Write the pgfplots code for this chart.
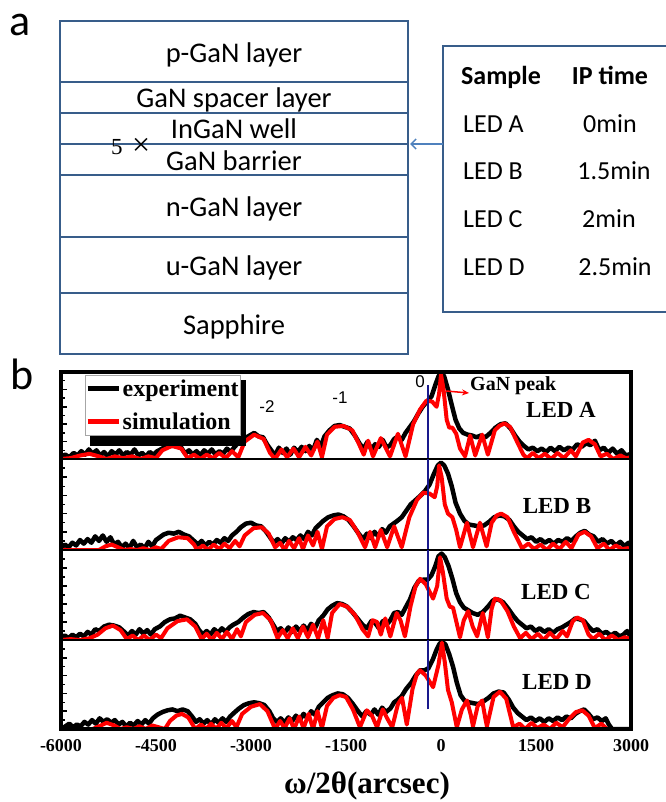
\documentclass[border=0pt]{standalone}
\usepackage{pgfplots}
\pgfplotsset{compat=1.18}
\usepackage{fontspec}
\setmainfont{Liberation Serif}
\newfontfamily\carl{Carlito}
\newfontfamily\arl{Liberation Sans}
\usetikzlibrary{arrows.meta}
\definecolor{boxc}{RGB}{56,93,138}
\definecolor{arrc}{RGB}{79,129,189}
\definecolor{navyl}{RGB}{25,25,140}
\pgfplotsset{
  xrd/.style={width=570pt, scale only axis, xmin=-6000, xmax=3000, ymin=0, ymax=1,
    axis line style={line width=2pt},
    ytick={0,0.2,0.4,0.6,0.8,1}, yticklabels={}, minor y tick num=1,
    ytick pos=left, tick align=inside, major tick length=6pt, minor tick length=3.5pt,
    every tick/.append style={black, line width=1.5pt},
    xtick=\empty},
  expt/.style={black, line width=4.5pt, line join=round},
  simu/.style={red, line width=4pt, line join=round},
  blu/.style={navyl, line width=2pt, forget plot},
}
\begin{document}
\begin{tikzpicture}[x=1pt,y=1pt, t/.style={inner sep=0pt}]
\useasboundingbox (0,0) rectangle (665,-802);
% ---------------- panel a ----------------
\draw[boxc, line width=1.5pt] (60,-21) rectangle (408,-354);
\foreach \yy in {82,113,144,175,237,293} \draw[boxc, line width=1.5pt] (60,-\yy) -- (408,-\yy);
\draw[boxc, line width=1.5pt] (443,-46) rectangle (668,-312);
\draw[arrc, line width=1.5pt, -{Straight Barb[length=5pt,width=10pt]}] (443,-144) -- (410,-144);
\node[t, anchor=base west, font=\carl\fontsize{44}{44}\selectfont] at (9,-36) {a};
\begin{scope}[every node/.style={t, anchor=base, font=\carl\fontsize{28.5}{30}\selectfont}]
\node at (234,-62.7) {p-GaN layer};
\node at (234,-108) {GaN spacer layer};
\node at (234,-139) {InGaN well};
\node at (234,-171) {GaN barrier};
\node at (234,-217) {n-GaN layer};
\node at (234,-275) {u-GaN layer};
\node at (234,-334) {Sapphire};
\end{scope}
\node[t, anchor=base west, font=\fontsize{23}{24}\selectfont] at (111,-155) {5};
\node[t, anchor=base west, font=\fontsize{32}{32}\selectfont] at (132,-156) {×};
\begin{scope}[every node/.style={t, anchor=base, font=\carl\fontsize{26}{28}\selectfont}]
\node[font=\carl\bfseries\fontsize{26}{28}\selectfont] at (501,-85) {Sample};
\node[font=\carl\bfseries\fontsize{26}{28}\selectfont] at (610,-85) {IP time};
\node[anchor=base west] at (463,-133) {LED A};
\node[anchor=base west] at (463,-180) {LED B};
\node[anchor=base west] at (463,-228) {LED C};
\node[anchor=base west] at (463,-275) {LED D};
\node at (610,-133) {0min};
\node at (614,-180) {1.5min};
\node at (609,-228) {2min};
\node at (615,-275) {2.5min};
\end{scope}
% ---------------- panel b ----------------
\node[t, anchor=base west, font=\carl\fontsize{44}{44}\selectfont] at (10,-389) {b};
% LED A
\begin{axis}[xrd, height=87pt, at={(61pt,-459pt)}, anchor=south west,
  legend style={at={(0.042,0.966)}, anchor=north west, draw=gray!70, line width=0.6pt, fill=white,
    font=\bfseries\fontsize{24}{24}\selectfont, row sep=12pt, inner xsep=0pt, inner ysep=3pt,
    nodes={inner sep=1.5pt},
    cells={anchor=west}},
  legend image code/.code={\draw[#1, line width=5pt] (0pt,0pt) -- (31pt,0pt);}]
\addplot[expt] table {
x y
-6000 0.03
-5930 0.05
-5870 0.02
-5800 0.07
-5740 0.04
-5680 0.09
-5620 0.05
-5560 0.11
-5500 0.06
-5440 0.10
-5380 0.04
-5320 0.08
-5260 0.03
-5200 0.09
-5140 0.05
-5080 0.10
-5020 0.04
-4960 0.08
-4900 0.05
-4840 0.11
-4780 0.04
-4720 0.07
-4660 0.03
-4600 0.08
-4540 0.05
-4480 0.09
-4400 0.12
-4320 0.16
-4250 0.15
-4180 0.17
-4100 0.13
-4040 0.06
-3980 0.10
-3920 0.05
-3860 0.09
-3800 0.04
-3740 0.10
-3680 0.06
-3620 0.11
-3560 0.05
-3500 0.09
-3440 0.06
-3380 0.12
-3320 0.08
-3260 0.14
-3180 0.20
-3100 0.24
-3020 0.27
-2950 0.30
-2880 0.26
-2810 0.25
-2740 0.16
-2680 0.10
-2620 0.04
-2560 0.13
-2500 0.07
-2440 0.12
-2380 0.05
-2320 0.13
-2260 0.08
-2200 0.14
-2140 0.09
-2080 0.15
-2020 0.10
-1960 0.22
-1900 0.14
-1840 0.26
-1760 0.33
-1680 0.38
-1600 0.39
-1520 0.37
-1440 0.35
-1360 0.27
-1280 0.17
-1220 0.12
-1160 0.20
-1100 0.11
-1040 0.17
-980 0.14
-920 0.22
-860 0.13
-800 0.16
-740 0.23
-680 0.26
-620 0.22
-560 0.30
-500 0.36
-430 0.43
-360 0.52
-290 0.60
-220 0.66
-150 0.72
-90 0.85
-40 0.95
0 0.99
50 0.95
110 0.80
170 0.62
230 0.45
290 0.35
350 0.30
420 0.28
490 0.27
560 0.25
630 0.27
700 0.25
780 0.30
860 0.36
940 0.40
1020 0.41
1100 0.35
1170 0.27
1240 0.20
1310 0.15
1380 0.11
1450 0.13
1520 0.09
1590 0.12
1660 0.08
1730 0.13
1800 0.09
1870 0.14
1940 0.10
2010 0.13
2080 0.11
2150 0.17
2220 0.14
2290 0.18
2360 0.16
2430 0.21
2500 0.10
2570 0.13
2640 0.07
2710 0.12
2780 0.06
2850 0.10
2920 0.04
3000 0.06
};
\addlegendentry{experiment}
\addplot[simu] table {
x y
-6000 0.00
-5850 0.01
-5700 0.04
-5550 0.06
-5400 0.03
-5280 0.00
-5150 0.03
-5020 0.01
-4880 0.03
-4750 0.00
-4620 0.03
-4500 0.01
-4400 0.10
-4250 0.15
-4100 0.12
-4000 0.01
-3900 0.05
-3800 0.00
-3700 0.05
-3600 0.01
-3500 0.07
-3400 0.01
-3300 0.09
-3200 0.02
-3100 0.20
-2950 0.28
-2800 0.23
-2700 0.07
-2620 0.00
-2520 0.11
-2430 0.02
-2330 0.12
-2240 0.02
-2140 0.14
-2050 0.04
-1950 0.20
-1880 0.02
-1800 0.28
-1680 0.37
-1540 0.38
-1400 0.33
-1300 0.18
-1220 0.05
-1150 0.21
-1074 0.03
-950 0.24
-805 0.03
-680 0.29
-560 0.03
-440 0.40
-330 0.57
-230 0.67
-140 0.66
-70 0.60
-30 0.75
0 0.97
40 0.80
90 0.45
130 0.36
180 0.36
240 0.29
300 0.12
380 0.03
460 0.27
540 0.04
650 0.28
740 0.05
850 0.33
920 0.38
1000 0.41
1090 0.37
1200 0.20
1300 0.05
1360 0.01
1450 0.07
1540 0.01
1640 0.06
1740 0.00
1840 0.07
1940 0.01
2050 0.10
2130 0.03
2240 0.19
2330 0.22
2430 0.17
2520 0.03
2620 0.06
2720 0.00
2830 0.04
2920 0.01
3000 0.02
};
\addlegendentry{simulation}
\addplot[blu] coordinates {(-205,0) (-205,0.85)};
\fill[black] (rel axis cs:0.0509,0.908) rectangle (rel axis cs:0.3246,0.149);
\end{axis}
% LED B
\begin{axis}[xrd, height=91pt, at={(61pt,-550pt)}, anchor=south west]
\addplot[expt] table {
x y
-6000 0.02
-5940 0.06
-5880 0.03
-5820 0.08
-5760 0.05
-5700 0.11
-5640 0.07
-5580 0.12
-5520 0.08
-5460 0.15
-5400 0.10
-5340 0.16
-5280 0.09
-5220 0.14
-5160 0.06
-5100 0.09
-5040 0.03
-4980 0.07
-4920 0.02
-4860 0.10
-4800 0.03
-4740 0.06
-4680 0.02
-4620 0.09
-4560 0.04
-4500 0.11
-4440 0.14
-4380 0.17
-4300 0.19
-4220 0.18
-4140 0.20
-4060 0.17
-3980 0.15
-3900 0.10
-3840 0.06
-3780 0.10
-3720 0.05
-3660 0.09
-3600 0.06
-3540 0.11
-3480 0.08
-3420 0.13
-3360 0.10
-3300 0.16
-3230 0.20
-3160 0.25
-3080 0.29
-3000 0.30
-2920 0.27
-2840 0.26
-2760 0.20
-2700 0.14
-2640 0.08
-2580 0.12
-2520 0.07
-2460 0.13
-2400 0.09
-2340 0.14
-2280 0.11
-2220 0.16
-2160 0.12
-2100 0.20
-2040 0.16
-1980 0.24
-1920 0.28
-1860 0.32
-1780 0.36
-1700 0.38
-1620 0.39
-1540 0.37
-1460 0.33
-1380 0.26
-1300 0.18
-1230 0.12
-1170 0.18
-1110 0.13
-1050 0.20
-990 0.15
-930 0.23
-870 0.19
-810 0.26
-750 0.29
-690 0.32
-620 0.36
-550 0.43
-480 0.50
-400 0.55
-320 0.60
-250 0.65
-180 0.72
-110 0.84
-50 0.93
0 0.96
50 0.93
110 0.84
170 0.70
230 0.52
300 0.40
370 0.32
440 0.28
520 0.27
600 0.26
680 0.27
760 0.31
840 0.36
920 0.38
1000 0.37
1080 0.33
1150 0.26
1220 0.20
1290 0.16
1360 0.12
1430 0.14
1500 0.09
1570 0.12
1640 0.08
1710 0.11
1780 0.07
1850 0.11
1920 0.09
1990 0.13
2060 0.10
2130 0.15
2200 0.19
2270 0.21
2340 0.17
2410 0.15
2480 0.09
2550 0.12
2620 0.07
2690 0.10
2760 0.05
2830 0.09
2900 0.04
2960 0.08
3000 0.03
};
\addplot[simu] table {
x y
-6000 0.00
-5400 0.00
-5300 0.04
-5200 0.06
-5100 0.03
-5000 0.00
-4900 0.01
-4800 0.00
-4700 0.02
-4600 0.00
-4500 0.03
-4420 0.01
-4300 0.10
-4150 0.14
-4000 0.13
-3900 0.06
-3850 0.00
-3760 0.05
-3680 0.00
-3590 0.06
-3500 0.01
-3420 0.07
-3340 0.02
-3250 0.10
-3180 0.04
-3100 0.16
-2960 0.24
-2830 0.25
-2720 0.18
-2620 0.03
-2540 0.08
-2470 0.00
-2400 0.10
-2320 0.02
-2240 0.13
-2180 0.01
-2100 0.16
-2020 0.05
-1950 0.20
-1880 0.01
-1800 0.26
-1680 0.34
-1560 0.36
-1440 0.33
-1320 0.20
-1200 0.03
-1120 0.20
-1040 0.03
-950 0.22
-850 0.03
-740 0.26
-620 0.03
-500 0.36
-380 0.55
-280 0.63
-180 0.62
-100 0.58
-60 0.70
-30 0.93
10 0.80
60 0.50
110 0.40
180 0.36
240 0.22
300 0.03
410 0.30
505 0.03
615 0.30
720 0.04
800 0.30
880 0.38
950 0.40
1050 0.36
1150 0.20
1280 0.02
1380 0.07
1470 0.01
1570 0.06
1670 0.00
1770 0.07
1870 0.01
1970 0.09
2060 0.02
2170 0.17
2270 0.20
2370 0.15
2470 0.02
2570 0.07
2660 0.00
2760 0.05
2860 0.01
2950 0.02
3000 0.01
};
\addplot[blu] coordinates {(-205,0) (-205,1)};
\end{axis}
% LED C
\begin{axis}[xrd, height=90pt, at={(61pt,-640pt)}, anchor=south west]
\addplot[expt] table {
x y
-6000 0.02
-5940 0.05
-5880 0.02
-5820 0.06
-5760 0.03
-5700 0.07
-5640 0.04
-5580 0.09
-5520 0.06
-5460 0.12
-5400 0.10
-5320 0.15
-5240 0.17
-5160 0.16
-5080 0.14
-5000 0.09
-4940 0.05
-4880 0.10
-4820 0.06
-4760 0.12
-4700 0.07
-4640 0.11
-4580 0.06
-4520 0.12
-4440 0.15
-4360 0.20
-4280 0.23
-4200 0.24
-4120 0.27
-4040 0.25
-3960 0.23
-3880 0.18
-3820 0.11
-3760 0.06
-3700 0.10
-3640 0.06
-3580 0.12
-3520 0.08
-3460 0.13
-3400 0.09
-3340 0.14
-3280 0.17
-3200 0.20
-3120 0.25
-3040 0.29
-2960 0.31
-2880 0.30
-2800 0.31
-2720 0.25
-2650 0.17
-2590 0.10
-2530 0.13
-2470 0.08
-2410 0.14
-2350 0.09
-2290 0.15
-2230 0.10
-2170 0.16
-2110 0.11
-2050 0.18
-1990 0.13
-1930 0.22
-1860 0.27
-1790 0.34
-1720 0.38
-1640 0.41
-1560 0.40
-1480 0.37
-1400 0.31
-1320 0.24
-1240 0.17
-1170 0.13
-1100 0.21
-1040 0.19
-980 0.13
-920 0.21
-860 0.17
-800 0.22
-740 0.30
-680 0.31
-620 0.28
-560 0.36
-490 0.45
-420 0.58
-350 0.66
-280 0.67
-210 0.67
-150 0.72
-90 0.82
-40 0.93
10 0.96
60 0.92
120 0.82
180 0.68
240 0.52
300 0.42
360 0.36
430 0.33
500 0.30
580 0.28
660 0.31
740 0.37
820 0.44
900 0.45
980 0.42
1060 0.35
1140 0.27
1210 0.21
1280 0.17
1350 0.13
1420 0.15
1490 0.10
1560 0.13
1630 0.09
1700 0.12
1770 0.08
1840 0.12
1910 0.14
1980 0.17
2050 0.20
2120 0.24
2190 0.23
2260 0.21
2330 0.15
2400 0.10
2470 0.12
2540 0.07
2610 0.09
2680 0.05
2750 0.08
2820 0.04
2880 0.06
2940 0.10
3000 0.03
};
\addplot[simu] table {
x y
-6000 0.00
-5850 0.01
-5700 0.00
-5550 0.02
-5420 0.06
-5300 0.13
-5180 0.16
-5060 0.11
-4960 0.01
-4870 0.05
-4780 0.00
-4690 0.05
-4600 0.00
-4500 0.06
-4420 0.02
-4320 0.13
-4160 0.21
-4010 0.23
-3880 0.15
-3780 0.01
-3700 0.07
-3620 0.00
-3540 0.08
-3460 0.01
-3380 0.09
-3300 0.01
-3220 0.12
-3160 0.04
-3080 0.20
-2940 0.28
-2810 0.30
-2690 0.22
-2580 0.02
-2500 0.11
-2420 0.02
-2340 0.13
-2260 0.02
-2180 0.15
-2100 0.03
-2020 0.17
-1940 0.02
-1860 0.22
-1790 0.02
-1720 0.30
-1600 0.40
-1480 0.37
-1360 0.28
-1240 0.12
-1150 0.04
-1080 0.22
-1010 0.20
-950 0.06
-880 0.24
-800 0.04
-700 0.30
-640 0.22
-570 0.04
-480 0.38
-400 0.60
-330 0.68
-240 0.62
-125 0.46
-60 0.60
-15 0.92
30 0.75
90 0.46
140 0.37
190 0.36
250 0.18
300 0.03
360 0.22
430 0.32
500 0.15
570 0.04
660 0.30
740 0.03
800 0.35
850 0.46
940 0.44
1050 0.32
1150 0.15
1250 0.02
1340 0.08
1430 0.01
1530 0.07
1620 0.00
1720 0.08
1820 0.01
1920 0.10
1990 0.04
2080 0.21
2150 0.25
2240 0.22
2330 0.06
2400 0.01
2500 0.07
2590 0.00
2700 0.05
2800 0.00
2900 0.03
3000 0.01
};
\addplot[blu] coordinates {(-205,0) (-205,1)};
\end{axis}
% LED D
\begin{axis}[xrd, height=89pt, at={(61pt,-729pt)}, anchor=south west,
  xtick={-6000,-4500,-3000,-1500,0,1500,3000},
  xticklabels={-6000,-4500,-3000,-1500,0,1500,3000},
  xtick style={draw=none},
  xticklabel style={font=\bfseries\fontsize{18}{18}\selectfont, yshift=-7pt}]
\addplot[expt] table {
x y
-6000 0.00
-5930 0.03
-5870 0.06
-5810 0.02
-5750 0.05
-5690 0.03
-5630 0.08
-5570 0.05
-5510 0.10
-5450 0.06
-5390 0.12
-5330 0.08
-5270 0.11
-5210 0.07
-5150 0.10
-5090 0.05
-5030 0.08
-4970 0.03
-4910 0.07
-4850 0.04
-4790 0.09
-4730 0.05
-4670 0.10
-4610 0.06
-4550 0.12
-4480 0.16
-4400 0.19
-4320 0.21
-4240 0.22
-4160 0.20
-4080 0.22
-4000 0.20
-3930 0.14
-3870 0.08
-3810 0.11
-3750 0.06
-3690 0.10
-3630 0.05
-3570 0.11
-3510 0.07
-3450 0.12
-3390 0.08
-3330 0.14
-3270 0.18
-3190 0.23
-3110 0.27
-3030 0.29
-2950 0.30
-2870 0.29
-2790 0.27
-2710 0.20
-2650 0.12
-2590 0.08
-2530 0.12
-2470 0.07
-2410 0.13
-2350 0.09
-2290 0.15
-2230 0.10
-2170 0.17
-2110 0.12
-2050 0.20
-1990 0.16
-1930 0.25
-1860 0.30
-1790 0.35
-1710 0.38
-1630 0.40
-1550 0.39
-1470 0.35
-1390 0.28
-1310 0.20
-1240 0.14
-1180 0.20
-1110 0.16
-1050 0.22
-990 0.16
-930 0.24
-870 0.19
-800 0.23
-740 0.30
-680 0.33
-620 0.37
-550 0.45
-470 0.52
-400 0.60
-330 0.66
-260 0.66
-200 0.68
-130 0.78
-70 0.89
-20 0.96
20 0.98
70 0.95
130 0.84
190 0.70
250 0.52
310 0.38
370 0.32
440 0.30
510 0.29
590 0.28
670 0.31
750 0.35
830 0.40
910 0.42
990 0.41
1070 0.33
1140 0.24
1210 0.18
1280 0.14
1350 0.10
1420 0.13
1490 0.09
1560 0.12
1630 0.08
1700 0.12
1770 0.09
1840 0.13
1910 0.10
1980 0.14
2050 0.12
2120 0.17
2190 0.20
2260 0.22
2330 0.17
2400 0.11
2470 0.13
2540 0.09
2600 0.12
2650 0.05
2700 0.00
3000 0.00
};
\addplot[simu] table {
x y
-6000 0.00
-5500 0.00
-5400 0.03
-5280 0.07
-5160 0.04
-5060 0.00
-4960 0.02
-4860 0.00
-4760 0.03
-4660 0.00
-4560 0.04
-4460 0.02
-4360 0.00
-4280 0.09
-4180 0.15
-4090 0.17
-3990 0.13
-3880 0.00
-3790 0.05
-3710 0.00
-3630 0.06
-3550 0.00
-3470 0.07
-3390 0.01
-3300 0.09
-3230 0.02
-3140 0.17
-3000 0.25
-2860 0.28
-2740 0.20
-2620 0.00
-2540 0.09
-2470 0.01
-2390 0.12
-2320 0.00
-2240 0.14
-2170 0.01
-2090 0.17
-2020 0.00
-1950 0.20
-1880 0.01
-1800 0.26
-1700 0.35
-1600 0.38
-1500 0.36
-1390 0.22
-1280 0.02
-1170 0.21
-1090 0.15
-1010 0.02
-920 0.22
-850 0.12
-770 0.02
-680 0.28
-615 0.35
-540 0.05
-450 0.45
-380 0.62
-330 0.66
-240 0.60
-125 0.47
-40 0.72
15 0.97
60 0.75
110 0.44
170 0.30
250 0.02
330 0.22
410 0.32
470 0.16
505 0.03
580 0.26
650 0.32
700 0.12
725 0.03
830 0.36
930 0.42
1030 0.34
1140 0.02
1240 0.06
1330 0.00
1430 0.07
1520 0.01
1620 0.05
1720 0.00
1820 0.07
1920 0.02
2030 0.12
2130 0.19
2230 0.21
2330 0.15
2430 0.01
2530 0.06
2620 0.00
3000 0.00
};
\addplot[blu] coordinates {(-205,0.22) (-205,1)};
\end{axis}
\draw[line width=4pt] (61,-372) rectangle (631,-729);
% annotations
\begin{scope}[every node/.style={t, font=\arl\fontsize{17}{17}\selectfont}]
\node at (267,-407) {-2};
\node at (340,-398) {-1};
\node at (420,-382) {0};
\end{scope}
\draw[red, line width=1.5pt, -{Stealth[length=7pt,width=6pt]}] (446,-391) -- (469,-393);
\node[t, anchor=base west, font=\bfseries\fontsize{20}{20}\selectfont] at (470,-390) {GaN peak};
\begin{scope}[every node/.style={t, anchor=base, font=\bfseries\fontsize{23}{23}\selectfont}]
\node at (561,-417) {LED A};
\node at (557,-513) {LED B};
\node at (556,-599) {LED C};
\node at (557,-689) {LED D};
\end{scope}
\node[t, anchor=base, font=\bfseries\fontsize{31}{31}\selectfont] at (367,-793) {ω/2θ(arcsec)};
\end{tikzpicture}
\end{document}
